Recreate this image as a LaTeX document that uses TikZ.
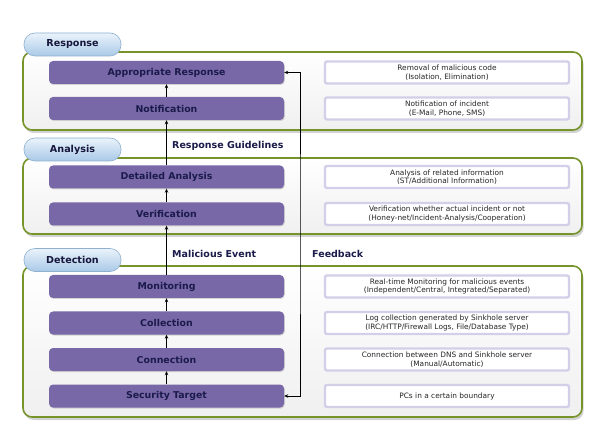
\documentclass[tikz,border=0pt]{standalone}
\usepackage{fontspec}
\setmainfont{DejaVu Sans}
\usetikzlibrary{arrows.meta,shadows}
\definecolor{purp}{HTML}{7868A8}
\definecolor{navy}{HTML}{1B1B4B}
\definecolor{grn}{HTML}{76942A}
\definecolor{lav}{HTML}{D2CFE8}
\definecolor{tabtop}{HTML}{EAF3FB}
\definecolor{tabbot}{HTML}{A9C9E7}
\definecolor{tabline}{HTML}{8FB0CF}
\tikzset{
  x=1pt,y=-1pt,
  container/.style={draw=grn, line width=1.6pt, rounded corners=9pt, top color=white, bottom color=black!6,
    drop shadow={fill=black!35, opacity=0.5, shadow xshift=1.5pt, shadow yshift=-3pt}},
  tabbox/.style={draw=tabline, line width=0.6pt, rounded corners=11pt, top color=tabtop, bottom color=tabbot,
    minimum width=97pt, minimum height=23pt, inner sep=0pt, font=\bfseries\fontsize{9.6}{11}\selectfont, text=navy!80!black},
  stepbox/.style={fill=purp, rounded corners=4pt, minimum width=235pt, minimum height=23pt, inner sep=0pt,
    font=\bfseries\fontsize{9.4}{11}\selectfont, text=navy,
    drop shadow={fill=black!40, opacity=0.4, shadow xshift=0.8pt, shadow yshift=-1pt}},
  descbox/.style={draw=lav, line width=2.4pt, fill=white, rounded corners=2pt, minimum width=244pt, minimum height=22pt,
    inner sep=0pt, align=center, font=\fontsize{7.4}{8.6}\selectfont, text=black!85},
  lbl/.style={font=\bfseries\fontsize{9.5}{11}\selectfont, text=navy, anchor=west, inner sep=0pt},
  tip/.style={Stealth[length=4pt,width=3.5pt]},
  arr/.style={-{Stealth[length=4pt,width=3.5pt]}, line width=0.9pt, black},
  arr2/.style={{Stealth[length=4pt,width=3.5pt]}-{Stealth[length=4pt,width=3.5pt]}, line width=0.9pt, black},
}
\begin{document}
\begin{tikzpicture}
\useasboundingbox[fill=white] (0,0) rectangle (605,430);
% containers
\path[container] (23,52) rectangle (582,130);
\path[container] (23,158) rectangle (582,234);
\path[container] (23,266) rectangle (582,417);
% tabs
\node[tabbox] (tresp) at (72.5,44.5) {Response};
\node[tabbox] (tana) at (72.5,149.5) {Analysis};
\node[tabbox] (tdet) at (72.5,260) {Detection};
% steps
\node[stepbox] (ar) at (166.5,72.5) {Appropriate Response};
\node[stepbox] (notif) at (166.5,108.5) {Notification};
\node[stepbox] (da) at (166.5,177) {Detailed Analysis};
\node[stepbox] (ver) at (166.5,214) {Verification};
\node[stepbox] (mon) at (166.5,286.5) {Monitoring};
\node[stepbox] (col) at (166.5,323) {Collection};
\node[stepbox] (con) at (166.5,359.5) {Connection};
\node[stepbox] (st) at (166.5,396) {Security Target};
% descriptions
\node[descbox] (d1) at (447,72.5) {Removal of malicious code\\(Isolation, Elimination)};
\node[descbox] (d2) at (447,108.5) {Notification of incident\\(E-Mail, Phone, SMS)};
\node[descbox] (d3) at (447,177) {Analysis of related information\\(ST/Additional Information)};
\node[descbox] (d4) at (447,214) {Verification whether actual incident or not\\(Honey-net/Incident-Analysis/Cooperation)};
\node[descbox] (d5) at (447,286.5) {Real-time Monitoring for malicious events\\(Independent/Central, Integrated/Separated)};
\node[descbox] (d6) at (447,323) {Log collection generated by Sinkhole server\\(IRC/HTTP/Firewall Logs, File/Database Type)};
\node[descbox] (d7) at (447,359.5) {Connection between DNS and Sinkhole server\\(Manual/Automatic)};
\node[descbox] (d8) at (447,396) {PCs in a certain boundary};
% flow
\draw[arr] (st) -- (con);
\draw[arr] (con) -- (col);
\draw[arr] (col) -- (mon);
\draw[arr] (mon) -- (ver);
\draw[arr] (ver) -- (da);
\draw[arr] (da) -- (notif);
\draw[arr] (notif) -- (ar);
% feedback
\coordinate (fb) at (300,234);
\draw[arr2] (ar.east) -| (fb) |- (st.east);
% labels
\node[lbl] (lrg) at (172,146) {Response Guidelines};
\node[lbl] (lme) at (172,254) {Malicious Event};
\node[lbl] (lfb) at (312,254) {Feedback};
\end{tikzpicture}
\end{document}
